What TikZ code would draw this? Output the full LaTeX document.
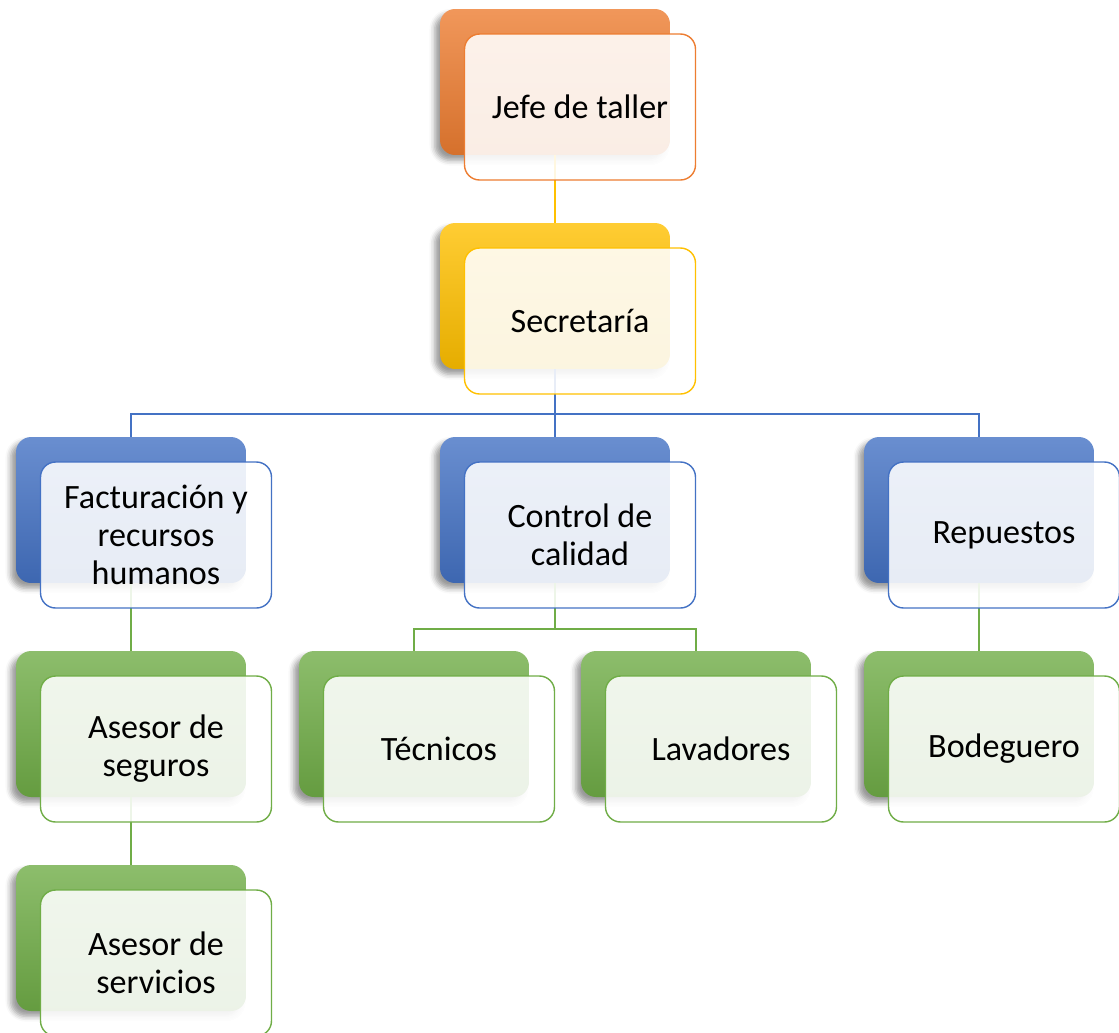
\documentclass[tikz,border=0pt]{standalone}
\usepackage{fontspec}
\setmainfont{Carlito}
\usetikzlibrary{shadows.blur}
\definecolor{jefeorange}{RGB}{237,125,49}
\definecolor{secyellow}{RGB}{255,192,0}
\definecolor{areablue}{RGB}{68,114,196}
\definecolor{staffgreen}{RGB}{112,173,71}

\begin{document}
\begin{tikzpicture}[x=0.02cm, y=-0.02cm, font=\fontsize{19.4}{21.6}\selectfont,
      back/.style={rounded corners=0.3cm, minimum width=4.6cm, minimum height=2.92cm,
                   inner sep=0pt, top color=#1!80!white, bottom color=#1!90!black,
                   blur shadow={shadow xshift=-3pt, shadow yshift=-3pt,
                                shadow blur radius=3pt, shadow opacity=40}},
      front/.style={draw=#1, line width=0.8pt, rounded corners=0.3cm,
                    minimum width=4.62cm, minimum height=2.92cm, inner sep=2pt,
                    fill=white, fill opacity=0.88, text opacity=1, align=center},
      link/.style={line width=1.2pt, draw=#1}
    ]
    \useasboundingbox (0,0) rectangle (1119,1032);

    % back boxes
    \node[back=jefeorange] (jefe) at (555,82) {};
    \node[back=secyellow] (sec) at (555,296) {};
    \node[back=areablue] (fac) at (131,510) {};
    \node[back=areablue] (ctl) at (555,510) {};
    \node[back=areablue] (rep) at (979,510) {};
    \node[back=staffgreen] (seg) at (131,724) {};
    \node[back=staffgreen] (tec) at (414,724) {};
    \node[back=staffgreen] (lav) at (696,724) {};
    \node[back=staffgreen] (bod) at (979,724) {};
    \node[back=staffgreen] (srv) at (131,938) {};

    % connectors
    \coordinate (busA) at (555,414);
    \coordinate (busB) at (555,629);
    \draw[link=secyellow] (jefe.south) -- (sec.north);
    \draw[link=areablue] (sec.south) -- (busA) -- (ctl.north);
    \draw[link=areablue] (fac.north) |- (busA) -| (rep.north);
    \draw[link=staffgreen] (fac.south) -- (seg.north);
    \draw[link=staffgreen] (ctl.south) -- (busB);
    \draw[link=staffgreen] (tec.north) |- (busB) -| (lav.north);
    \draw[link=staffgreen] (rep.south) -- (bod.north);
    \draw[link=staffgreen] (seg.south) -- (srv.north);

    % front boxes with the labels
    \node[front=jefeorange] (jefe-f) at ([shift={(25,25)}]jefe) {Jefe de taller};
    \node[front=secyellow] (sec-f) at ([shift={(25,25)}]sec) {Secretaría};
    \node[front=areablue] (fac-f) at ([shift={(25,25)}]fac) {Facturación y\\recursos\\humanos};
    \node[front=areablue] (ctl-f) at ([shift={(25,25)}]ctl) {Control de\\calidad};
    \node[front=areablue] (rep-f) at ([shift={(25,25)}]rep) {Repuestos};
    \node[front=staffgreen] (seg-f) at ([shift={(25,25)}]seg) {Asesor de\\seguros};
    \node[front=staffgreen] (tec-f) at ([shift={(25,25)}]tec) {Técnicos};
    \node[front=staffgreen] (lav-f) at ([shift={(25,25)}]lav) {Lavadores};
    \node[front=staffgreen] (bod-f) at ([shift={(25,25)}]bod) {Bodeguero};
    \node[front=staffgreen] (srv-f) at ([shift={(25,25)}]srv) {Asesor de\\servicios};
  \end{tikzpicture}
\end{document}
